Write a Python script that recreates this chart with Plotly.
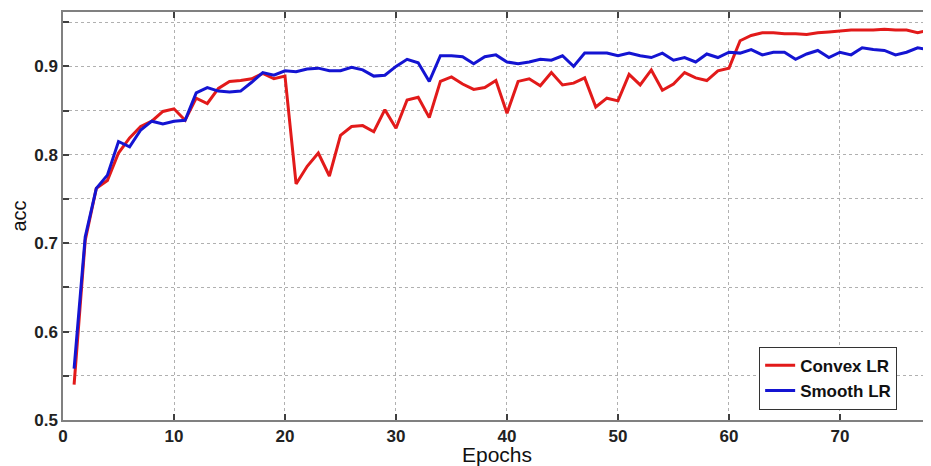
import plotly.graph_objects as go

epochs = list(range(1, 79))
convex_lr = [0.540, 0.703, 0.762, 0.771, 0.802, 0.819, 0.832, 0.838, 0.849, 0.852,
             0.839, 0.864, 0.858, 0.875, 0.883, 0.884, 0.886, 0.892, 0.886, 0.889,
             0.767, 0.787, 0.802, 0.776, 0.822, 0.832, 0.833, 0.826, 0.851, 0.830,
             0.862, 0.865, 0.842, 0.883, 0.888, 0.880, 0.874, 0.876, 0.884, 0.847,
             0.883, 0.886, 0.878, 0.893, 0.879, 0.881, 0.887, 0.854, 0.864, 0.861,
             0.891, 0.879, 0.896, 0.873, 0.880, 0.893, 0.887, 0.884, 0.895, 0.898,
             0.929, 0.935, 0.938, 0.938, 0.937, 0.937, 0.936, 0.938, 0.939, 0.940,
             0.941, 0.941, 0.941, 0.942, 0.941, 0.941, 0.938, 0.941]
smooth_lr = [0.558, 0.707, 0.762, 0.777, 0.815, 0.809, 0.828, 0.838, 0.835, 0.838,
             0.839, 0.870, 0.876, 0.872, 0.871, 0.872, 0.882, 0.893, 0.890, 0.895,
             0.894, 0.897, 0.898, 0.895, 0.895, 0.899, 0.896, 0.889, 0.890, 0.900,
             0.908, 0.904, 0.883, 0.912, 0.912, 0.911, 0.903, 0.911, 0.913, 0.905,
             0.903, 0.905, 0.908, 0.907, 0.912, 0.900, 0.915, 0.915, 0.915, 0.912,
             0.915, 0.912, 0.910, 0.915, 0.907, 0.910, 0.905, 0.914, 0.910, 0.916,
             0.915, 0.919, 0.913, 0.916, 0.916, 0.908, 0.914, 0.918, 0.910, 0.916,
             0.913, 0.921, 0.919, 0.918, 0.913, 0.916, 0.921, 0.919]

x_ticks = [0, 10, 20, 30, 40, 50, 60, 70]
y_ticks = [0.5, 0.55, 0.6, 0.65, 0.7, 0.75, 0.8, 0.85, 0.9, 0.95]
y_labels = ["0.5", "", "0.6", "", "0.7", "", "0.8", "", "0.9", ""]

FONT = "Liberation Sans, Arial"

fig = go.Figure()
fig.add_trace(go.Scatter(x=epochs, y=convex_lr, mode="lines", name="<b>Convex LR</b>",
                         line=dict(color="#e21a1a", width=3)))
fig.add_trace(go.Scatter(x=epochs, y=smooth_lr, mode="lines", name="<b>Smooth LR</b>",
                         line=dict(color="#1414d2", width=3)))

axis_common = dict(
    showline=True, linecolor="#808080", linewidth=1.5, mirror="ticks",
    ticks="inside", ticklen=6, tickcolor="#404040", tickwidth=1.5,
    showgrid=True, gridcolor="#b0b0b0", griddash="dot", gridwidth=1,
    zeroline=False, automargin=False,
    tickfont=dict(family=FONT, size=17, color="#222"),
)

fig.update_xaxes(range=[0, 78.2], tickvals=x_ticks,
                 ticktext=[f"<b>{v}</b>" for v in x_ticks],
                 title=dict(text="Epochs", font=dict(family=FONT, size=21, color="#111"), standoff=4),
                 **axis_common)
fig.update_yaxes(range=[0.5, 0.9615], tickvals=y_ticks,
                 ticktext=[f"<b>{t}</b>" if t else "" for t in y_labels],
                 title=dict(text="acc", font=dict(family=FONT, size=20, color="#111"), standoff=13),
                 **axis_common)

# page body has an 8px margin: compensate so the plot box lands at (63,12)-(931,420)
fig.update_layout(
    width=923, height=458,
    margin=dict(l=55, r=0, t=4, b=46),
    paper_bgcolor="white", plot_bgcolor="white",
    showlegend=True,
    legend=dict(x=0.961, y=0.025, xanchor="right", yanchor="bottom",
                bgcolor="white", bordercolor="#333", borderwidth=1,
                font=dict(family=FONT, size=17, color="#111"),
                tracegroupgap=0, itemwidth=30),
)

fig.write_html("out.html")
